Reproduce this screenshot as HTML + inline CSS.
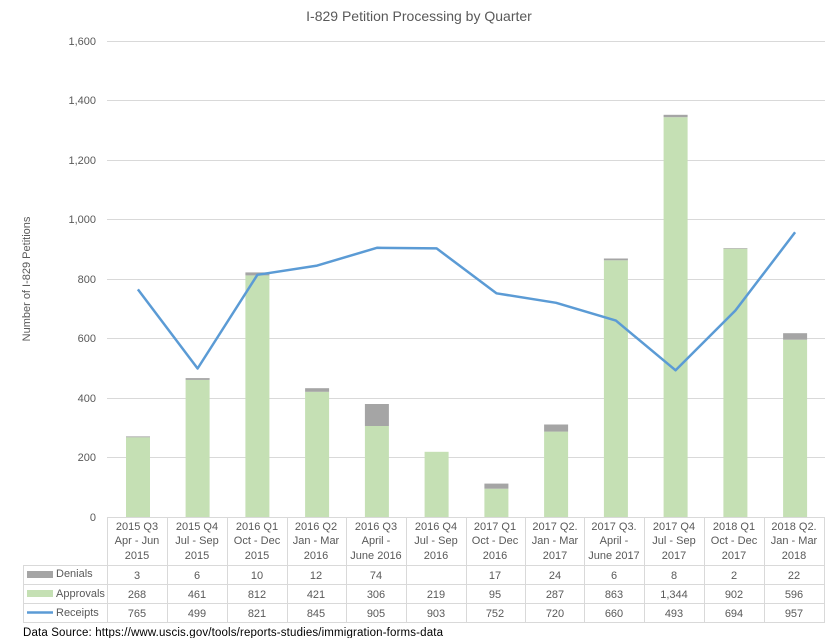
<!DOCTYPE html>
<html><head><meta charset="utf-8"><style>
body{margin:0;background:#fff;}
svg{display:block;font-family:"Liberation Sans",Calibri,sans-serif;}
</style></head><body>
<svg width="838" height="638" viewBox="0 0 838 638">
<text x="419" y="21" text-anchor="middle" font-size="14" fill="#595959">I-829 Petition Processing by Quarter</text>
<g stroke="#d9d9d9" stroke-width="1">
<line x1="107" x2="825" y1="41.5" y2="41.5"/><line x1="107" x2="825" y1="100.5" y2="100.5"/>
<line x1="107" x2="825" y1="160.5" y2="160.5"/><line x1="107" x2="825" y1="219.5" y2="219.5"/>
<line x1="107" x2="825" y1="279.5" y2="279.5"/><line x1="107" x2="825" y1="338.5" y2="338.5"/>
<line x1="107" x2="825" y1="398.5" y2="398.5"/><line x1="107" x2="825" y1="457.5" y2="457.5"/>
<line x1="107" x2="825" y1="517.5" y2="517.5"/>
</g>
<g font-size="11" fill="#595959" text-anchor="end">
<text x="96" y="45">1,600</text><text x="96" y="104">1,400</text><text x="96" y="164">1,200</text>
<text x="96" y="223">1,000</text><text x="96" y="283">800</text><text x="96" y="342">600</text>
<text x="96" y="402">400</text><text x="96" y="461">200</text><text x="96" y="521">0</text>
</g>
<text transform="translate(30,279) rotate(-90)" text-anchor="middle" font-size="11" fill="#595959">Number  of I-829 Petitions</text>
<g fill="#c5e0b4">
<rect x="126" y="437.3" width="24" height="79.7"/>
<rect x="185.6" y="379.9" width="24" height="137.1"/>
<rect x="245.4" y="275.4" width="24" height="241.6"/>
<rect x="305.1" y="391.8" width="24" height="125.2"/>
<rect x="364.9" y="426" width="24" height="91"/>
<rect x="424.6" y="451.8" width="24" height="65.2"/>
<rect x="484.4" y="488.7" width="24" height="28.3"/>
<rect x="544.1" y="431.6" width="24" height="85.4"/>
<rect x="603.9" y="260.3" width="24" height="256.7"/>
<rect x="663.6" y="117.2" width="24" height="399.8"/>
<rect x="723.4" y="248.7" width="24" height="268.3"/>
<rect x="783.1" y="339.7" width="24" height="177.3"/>
</g>
<g fill="#a5a5a5">
<rect x="126" y="436.4" width="24" height="0.9"/>
<rect x="185.6" y="378.1" width="24" height="1.8"/>
<rect x="245.4" y="272.4" width="24" height="3"/>
<rect x="305.1" y="388.2" width="24" height="3.6"/>
<rect x="364.9" y="404" width="24" height="22"/>
<rect x="484.4" y="483.6" width="24" height="5.1"/>
<rect x="544.1" y="424.5" width="24" height="7.1"/>
<rect x="603.9" y="258.5" width="24" height="1.8"/>
<rect x="663.6" y="114.8" width="24" height="2.4"/>
<rect x="723.4" y="248.1" width="24" height="0.6"/>
<rect x="783.1" y="333.2" width="24" height="6.5"/>
</g>
<polyline fill="none" stroke="#5b9bd5" stroke-width="2.5" stroke-linejoin="round" points="137.9,289.4 197.6,368.5 257.4,274.8 317.1,265.6 376.9,247.8 436.6,248.4 496.4,293.3 556.1,302.8 615.9,320.6 675.6,370.3 735.4,310.5 795.1,232.3"/>
<g stroke="#d9d9d9" stroke-width="1" fill="none">
<line x1="107.5" y1="517" x2="107.5" y2="622"/>
<line x1="167.5" y1="517" x2="167.5" y2="622"/><line x1="227.5" y1="517" x2="227.5" y2="622"/>
<line x1="287.5" y1="517" x2="287.5" y2="622"/><line x1="346.5" y1="517" x2="346.5" y2="622"/>
<line x1="406.5" y1="517" x2="406.5" y2="622"/><line x1="466.5" y1="517" x2="466.5" y2="622"/>
<line x1="525.5" y1="517" x2="525.5" y2="622"/><line x1="584.5" y1="517" x2="584.5" y2="622"/>
<line x1="644.5" y1="517" x2="644.5" y2="622"/><line x1="704.5" y1="517" x2="704.5" y2="622"/>
<line x1="764.5" y1="517" x2="764.5" y2="622"/><line x1="824.5" y1="517" x2="824.5" y2="622"/>
<line x1="23.5" y1="565" x2="23.5" y2="622"/>
<line x1="23" y1="565.5" x2="825" y2="565.5"/><line x1="23" y1="584.5" x2="825" y2="584.5"/>
<line x1="23" y1="603.5" x2="825" y2="603.5"/><line x1="23" y1="622.5" x2="825" y2="622.5"/>
</g>
<g font-size="11" fill="#595959" text-anchor="middle">
<text x="137" y="530">2015 Q3</text><text x="137" y="544">Apr - Jun</text><text x="137" y="559">2015</text>
<text x="197" y="530">2015 Q4</text><text x="197" y="544">Jul - Sep</text><text x="197" y="559">2015</text>
<text x="257" y="530">2016 Q1</text><text x="257" y="544">Oct - Dec</text><text x="257" y="559">2015</text>
<text x="316" y="530">2016 Q2</text><text x="316" y="544">Jan - Mar</text><text x="316" y="559">2016</text>
<text x="376" y="530">2016 Q3</text><text x="376" y="544">April -</text><text x="376" y="559">June 2016</text>
<text x="436" y="530">2016 Q4</text><text x="436" y="544">Jul - Sep</text><text x="436" y="559">2016</text>
<text x="495" y="530">2017 Q1</text><text x="495" y="544">Oct - Dec</text><text x="495" y="559">2016</text>
<text x="555" y="530">2017 Q2.</text><text x="555" y="544">Jan - Mar</text><text x="555" y="559">2017</text>
<text x="614" y="530">2017 Q3.</text><text x="614" y="544">April -</text><text x="614" y="559">June 2017</text>
<text x="674" y="530">2017 Q4</text><text x="674" y="544">Jul - Sep</text><text x="674" y="559">2017</text>
<text x="734" y="530">2018 Q1</text><text x="734" y="544">Oct - Dec</text><text x="734" y="559">2017</text>
<text x="794" y="530">2018 Q2.</text><text x="794" y="544">Jan - Mar</text><text x="794" y="559">2018</text>
<text x="137" y="579">3</text><text x="197" y="579">6</text><text x="257" y="579">10</text><text x="316" y="579">12</text><text x="376" y="579">74</text><text x="495" y="579">17</text><text x="555" y="579">24</text><text x="614" y="579">6</text><text x="674" y="579">8</text><text x="734" y="579">2</text><text x="794" y="579">22</text>
<text x="137" y="598">268</text><text x="197" y="598">461</text><text x="257" y="598">812</text><text x="316" y="598">421</text><text x="376" y="598">306</text><text x="436" y="598">219</text><text x="495" y="598">95</text><text x="555" y="598">287</text><text x="614" y="598">863</text><text x="674" y="598">1,344</text><text x="734" y="598">902</text><text x="794" y="598">596</text>
<text x="137" y="617">765</text><text x="197" y="617">499</text><text x="257" y="617">821</text><text x="316" y="617">845</text><text x="376" y="617">905</text><text x="436" y="617">903</text><text x="495" y="617">752</text><text x="555" y="617">720</text><text x="614" y="617">660</text><text x="674" y="617">493</text><text x="734" y="617">694</text><text x="794" y="617">957</text>
</g>
<rect x="27" y="571" width="26" height="7" fill="#a5a5a5"/>
<rect x="27" y="590" width="26" height="7" fill="#c5e0b4"/>
<line x1="27" y1="612.5" x2="53" y2="612.5" stroke="#5b9bd5" stroke-width="2.5"/>
<g font-size="11" fill="#595959">
<text x="56" y="577">Denials</text><text x="56" y="597">Approvals</text><text x="56" y="616">Receipts</text>
</g>
<text x="23" y="636" font-size="11.5" fill="#000" textLength="420" lengthAdjust="spacing">Data Source: https://www.uscis.gov/tools/reports-studies/immigration-forms-data</text>
</svg>
</body></html>
